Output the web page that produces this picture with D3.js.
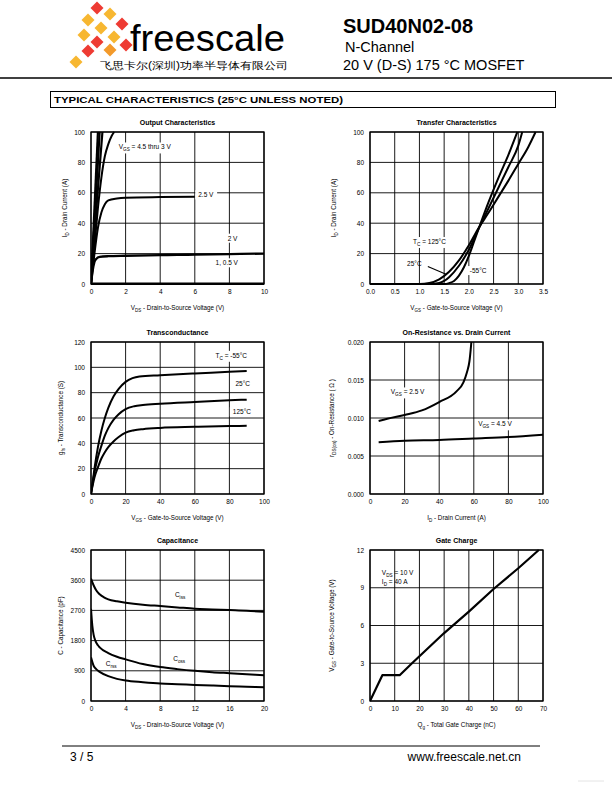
<!DOCTYPE html>
<html><head><meta charset="utf-8">
<script src="https://cdn.jsdelivr.net/npm/d3@7"></script>
<style>
body{margin:0;background:#fff}
svg{display:block}
text{font-family:"Liberation Sans",Arial,Helvetica,sans-serif}
</style>
</head><body>
<svg id="c" width="612" height="792"></svg>
<script>
// ---------------- DATA ----------------
// Output Characteristics (ID vs VDS)
const outXTicks = [0, 2, 4, 6, 8, 10];
const outYTicks = [0, 20, 40, 60, 80, 100];
const out4p5V = [[0,0],[0.4,100]];
const out4V   = [[0,0],[0.5,100]];
const out3p5V = [[0,0],[0.3,48],[0.66,100]];
const out3V   = [[0,0],[0.2,25],[0.4,50],[0.6,70],[0.8,84],[1.0,92],[1.2,97.5],[1.34,100]];
const out2p5V = [[0,0],[0.2,20],[0.4,37],[0.6,47],[0.8,52.5],[1.0,55],[1.5,56.3],[2,56.8],[4,57.2],[6,57.4]];
const out2V   = [[0,0],[0.1,9],[0.2,14.5],[0.3,16.5],[0.5,17.8],[1,18.3],[2,18.6],[4,19],[6,19.3],[8,19.7],[10,20]];
const out1V   = [[0,0],[10,0]];

// Transfer Characteristics (ID vs VGS)
const trXTicks = [0, 0.5, 1, 1.5, 2, 2.5, 3, 3.5];
const trYTicks = [0, 20, 40, 60, 80, 100];
const tr125 = [[0,0],[1.0,0],[1.2,0.6],[1.4,3],[1.6,8],[1.8,15.5],[2.0,25.5],[2.2,37],[2.4,47],[2.6,57.5],[2.8,68],[3.0,79],[3.2,90],[3.35,100]];
const tr25  = [[0,0],[1.2,0],[1.4,0.6],[1.5,2],[1.6,4.5],[1.8,12],[2.0,22.5],[2.2,36.5],[2.4,50],[2.6,63.5],[2.8,77],[3.0,91],[3.08,100]];
const trM55 = [[0,0],[1.5,0],[1.6,0.6],[1.7,2],[1.8,5.5],[1.9,11],[2.0,18.5],[2.1,27.5],[2.2,36.5],[2.4,54],[2.6,70],[2.8,85],[2.98,100]];

// Transconductance (gfs vs ID)
const gfsXTicks = [0, 20, 40, 60, 80, 100];
const gfsYTicks = [0, 20, 40, 60, 80, 100, 120];
const gfsM55 = [[0,0],[1,10],[2,20],[4,37],[6,50],[8,60],[10,68],[13,77],[16,83],[20,88.5],[24,91.5],[28,92.8],[40,93.8],[60,95.2],[80,96.5],[90,97.2]];
const gfs25  = [[0,0],[1,9],[2,17],[4,29],[6,38],[8,46],[10,52],[13,58.5],[16,63],[20,67],[25,69.3],[30,70.3],[40,71.3],[60,72.7],[80,74],[90,74.5]];
const gfs125 = [[0,0],[1,7],[2,13],[4,21],[6,28],[8,33],[10,37],[13,41.5],[16,45],[20,48.5],[25,50.3],[30,51.2],[40,52.2],[60,53],[80,53.6],[90,53.8]];

// On-Resistance vs Drain Current
const rdsXTicks = [0, 20, 40, 60, 80, 100];
const rdsYTicks = [0, 0.005, 0.010, 0.015, 0.020];
const rds2p5V = [[5,0.0096],[10,0.0099],[20,0.0104],[30,0.011],[40,0.0121],[50,0.0135],[54,0.0147],[56,0.016],[57.5,0.0175],[58.2,0.019],[58.6,0.020]];
const rds4p5V = [[5,0.0068],[20,0.0070],[40,0.0071],[60,0.0073],[80,0.0075],[100,0.0078]];

// Capacitance
const capXTicks = [0, 4, 8, 12, 16, 20];
const capYTicks = [0, 900, 1800, 2700, 3600, 4500];
const ciss = [[0,3650],[0.3,3450],[0.6,3300],[1,3180],[1.5,3090],[2,3030],[3,2970],[4,2930],[6,2870],[8,2830],[10,2790],[12,2750],[14,2730],[16,2710],[18,2690],[20,2660]];
const coss = [[0,2750],[0.15,2250],[0.3,1980],[0.5,1800],[0.8,1660],[1,1600],[2,1430],[3,1320],[4,1240],[6,1100],[8,1010],[10,950],[12,900],[14,860],[16,830],[18,800],[20,770]];
const crss = [[0,1300],[0.3,1050],[0.6,950],[1,870],[2,740],[3,660],[4,610],[6,560],[8,520],[10,500],[12,480],[14,460],[16,440],[18,425],[20,410]];

// Gate Charge
const qgXTicks = [0, 10, 20, 30, 40, 50, 60, 70];
const qgYTicks = [0, 3, 6, 9, 12];
const qgVgs = [[0,0],[5,2.05],[12,2.05],[17,3],[30,5.4],[40,7.1],[50,8.9],[60,10.55],[68.3,12]];

// ---------------- DRAWING ----------------
const svg = d3.select('#c');
const FONT = '"Liberation Sans", Arial, Helvetica, sans-serif';

function rich(sel, parts, size) {
  let inSub = false;
  parts.forEach(p => {
    const t = typeof p === 'string' ? p : p[0];
    const sub = typeof p !== 'string';
    const ts = sel.append('tspan').text(t);
    if (sub && !inSub) { ts.attr('font-size', size * 0.72).attr('dy', size * 0.3); inSub = true; }
    else if (sub) { ts.attr('font-size', size * 0.72); }
    else if (!sub && inSub) { ts.attr('dy', -size * 0.3); inSub = false; }
  });
  return sel;
}

let clipId = 0;
function panel(p) {
  const x = d3.scaleLinear().domain(p.xDomain).range([p.left, p.right]);
  const y = d3.scaleLinear().domain(p.yDomain).range([p.bottom, p.top]);
  const g = svg.append('g');
  g.append('g').selectAll('line').data(p.xTicks).join('line')
    .attr('x1', d => x(d)).attr('x2', d => x(d))
    .attr('y1', p.top).attr('y2', p.bottom)
    .attr('stroke', '#000').attr('stroke-width', 0.9);
  g.append('g').selectAll('line').data(p.yTicks).join('line')
    .attr('y1', d => y(d)).attr('y2', d => y(d))
    .attr('x1', p.left).attr('x2', p.right)
    .attr('stroke', '#000').attr('stroke-width', 0.9);
  g.append('rect').attr('x', p.left).attr('y', p.top)
    .attr('width', p.right - p.left).attr('height', p.bottom - p.top)
    .attr('fill', 'none').attr('stroke', '#000').attr('stroke-width', 1.3);
  const ax = g.append('g').attr('transform', `translate(0,${p.bottom})`)
    .call(d3.axisBottom(x).tickValues(p.xTicks).tickFormat(p.xFmt).tickSize(0).tickPadding(5));
  ax.select('.domain').remove();
  ax.attr('font-family', FONT).attr('font-size', 6.5);
  const ay = g.append('g').attr('transform', `translate(${p.left},0)`)
    .call(d3.axisLeft(y).tickValues(p.yTicks).tickFormat(p.yFmt).tickSize(0).tickPadding(p.yPad || 6));
  ay.select('.domain').remove();
  ay.attr('font-family', FONT).attr('font-size', 6.5);
  g.append('text').attr('x', (p.left + p.right) / 2).attr('y', p.top - 7)
    .attr('text-anchor', 'middle').attr('font-size', 7).attr('font-weight', 'bold').text(p.title);
  rich(g.append('text').attr('x', (p.left + p.right) / 2).attr('y', p.bottom + 26)
    .attr('text-anchor', 'middle').attr('font-size', 6.3), p.xTitle, 6.3);
  rich(g.append('text').attr('transform', `translate(${p.left - p.yTitleOff},${(p.top + p.bottom) / 2}) rotate(-90)`)
    .attr('text-anchor', 'middle').attr('font-size', 6.3), p.yTitle, 6.3);
  const id = 'clip' + (clipId++);
  svg.append('clipPath').attr('id', id).append('rect')
    .attr('x', p.left).attr('y', p.top - 1).attr('width', p.right - p.left).attr('height', p.bottom - p.top + 2);
  const curves = g.append('g').attr('clip-path', `url(#${id})`);
  return {g, x, y, curves};
}

function curve(P, data, opts = {}) {
  const line = d3.line().x(d => P.x(d[0])).y(d => P.y(d[1]))
    .curve(opts.linear ? d3.curveLinear : d3.curveMonotoneX);
  P.curves.append('path').datum(data).attr('d', line)
    .attr('fill', 'none').attr('stroke', opts.color || '#000')
    .attr('stroke-width', opts.width || 2).attr('stroke-linejoin', 'round');
}

function label(P, xv, yv, parts, opts = {}) {
  const size = opts.size || 6.5;
  const t = P.g.append('text').attr('x', P.x(xv)).attr('y', P.y(yv))
    .attr('font-size', size).attr('text-anchor', opts.anchor || 'start');
  rich(t, parts, size);
  if (opts.bg !== false) {
    const b = t.node().getBBox();
    P.g.insert('rect', () => t.node())
      .attr('x', b.x - 3).attr('y', b.y - 1).attr('width', b.width + 6).attr('height', b.height + 2)
      .attr('fill', '#fff');
  }
  return t;
}

const L = {left: 91, right: 264}, R = {left: 370, right: 543};
const row1 = {top: 132, bottom: 284}, row2 = {top: 342, bottom: 494}, row3 = {top: 550, bottom: 701};
const fmt0 = d3.format('d');

// Panel 1: Output Characteristics
const P1 = panel({...L, ...row1, xDomain: [0, 10], yDomain: [0, 100], xTicks: outXTicks, yTicks: outYTicks,
  xFmt: fmt0, yFmt: fmt0, title: 'Output Characteristics',
  xTitle: ['V', ['DS'], '  -  Drain-to-Source Voltage (V)'], yTitle: ['I', ['D'], '  -  Drain Current (A)'], yTitleOff: 24});
curve(P1, out4p5V, {linear: true, width: 2.2});
curve(P1, out4V, {linear: true, width: 2.2});
curve(P1, out3p5V, {width: 2.2});
curve(P1, out3V);
curve(P1, out2p5V);
curve(P1, out2V, {width: 2.3});
curve(P1, out1V, {linear: true, width: 3});
label(P1, 1.6, 88.5, ['V', ['GS'], ' = 4.5 thru 3 V']);
label(P1, 6.2, 57, ['2.5 V']);
label(P1, 7.9, 28.5, ['2 V']);
label(P1, 7.2, 12.3, ['1, 0.5 V']);

// Panel 2: Transfer Characteristics
const P2 = panel({...R, ...row1, xDomain: [0, 3.5], yDomain: [0, 100], xTicks: trXTicks, yTicks: trYTicks,
  xFmt: d3.format('.1f'), yFmt: fmt0, title: 'Transfer Characteristics',
  xTitle: ['V', ['GS'], '  -  Gate-to-Source Voltage (V)'], yTitle: ['I', ['D'], '  -  Drain Current (A)'], yTitleOff: 34});
curve(P2, tr125);
curve(P2, tr25);
curve(P2, trM55);
label(P2, 0.87, 26.3, ['T', ['C'], ' = 125°C']);
label(P2, 0.75, 12, ['25°C'], {bg: false});
P2.g.append('line').attr('x1', P2.x(1.17)).attr('y1', P2.y(11.5)).attr('x2', P2.x(1.55)).attr('y2', P2.y(6.3))
  .attr('stroke', '#000').attr('stroke-width', 1.1);
label(P2, 2.02, 7.2, ['-55°C']);

// Panel 3: Transconductance
const P3 = panel({...L, ...row2, xDomain: [0, 100], yDomain: [0, 120], xTicks: gfsXTicks, yTicks: gfsYTicks,
  xFmt: fmt0, yFmt: fmt0, title: 'Transconductance',
  xTitle: ['V', ['GS'], '  -  Gate-to-Source Voltage (V)'], yTitle: ['g', ['fs'], '  -  Transconductance (S)'], yTitleOff: 28});
curve(P3, gfsM55);
curve(P3, gfs25);
curve(P3, gfs125);
label(P3, 72, 107.5, ['T', ['C'], ' = -55°C']);
label(P3, 83.5, 85, ['25°C']);
label(P3, 82, 63, ['125°C']);

// Panel 4: On-Resistance vs Drain Current
const P4 = panel({...R, ...row2, xDomain: [0, 100], yDomain: [0, 0.02], xTicks: rdsXTicks, yTicks: rdsYTicks,
  xFmt: fmt0, yFmt: d3.format('.3f'), title: 'On-Resistance vs. Drain Current',
  xTitle: ['I', ['D'], '  -  Drain Current (A)'], yTitle: ['r', ['DS(on)'], '  -  On-Resistance ( Ω )'], yTitleOff: 36});
curve(P4, rds2p5V);
curve(P4, rds4p5V);
label(P4, 12, 0.0131, ['V', ['GS'], ' = 2.5 V']);
label(P4, 62.5, 0.0089, ['V', ['GS'], ' = 4.5 V']);

// Panel 5: Capacitance
const P5 = panel({...L, ...row3, xDomain: [0, 20], yDomain: [0, 4500], xTicks: capXTicks, yTicks: capYTicks,
  xFmt: fmt0, yFmt: fmt0, title: 'Capacitance',
  xTitle: ['V', ['DS'], '  -  Drain-to-Source Voltage (V)'], yTitle: ['C  -  Capacitance (pF)'], yTitleOff: 28});
curve(P5, ciss);
curve(P5, coss);
curve(P5, crss);
label(P5, 9.7, 3100, ['C', ['iss']], {bg: false});
label(P5, 9.5, 1190, ['C', ['oss']], {bg: false});
label(P5, 1.7, 1040, ['C', ['rss']], {bg: false});

// Panel 6: Gate Charge
const P6 = panel({...R, ...row3, xDomain: [0, 70], yDomain: [0, 12], xTicks: qgXTicks, yTicks: qgYTicks,
  xFmt: fmt0, yFmt: fmt0, title: 'Gate Charge',
  xTitle: ['Q', ['g'], '  -  Total Gate Charge (nC)'], yTitle: ['V', ['GS'], '  -  Gate-to-Source Voltage (V)'], yTitleOff: 36});
curve(P6, qgVgs, {linear: true, width: 2.2});
label(P6, 4.8, 10, ['V', ['DS'], ' = 10 V'], {bg: false});
label(P6, 4.8, 9.3, ['I', ['D'], ' = 40 A'], {bg: false});

// ---------------- HEADER ----------------
const diamonds = [
  [97,8,'#ee3b33'],[110,14,'#f7b731'],[88,20,'#f7b731'],[122,24,'#ee3b33'],
  [101,28,'#f7b731'],[84,35,'#f7b731'],[114,37,'#f7b731'],[97,42,'#ee3b33'],
  [126,45,'#ee3b33'],[110,50,'#f39a2b'],[88,51,'#ee3b33'],[76,62,'#f7b731']
];
const hdr = svg.append('g');
hdr.selectAll('rect.dm').data(diamonds).join('rect').attr('class', 'dm')
  .attr('x', -4.6).attr('y', -4.6).attr('width', 9.2).attr('height', 9.2)
  .attr('transform', d => `translate(${d[0]},${d[1]}) rotate(45)`)
  .attr('fill', d => d[2]);
hdr.append('text').attr('x', 130).attr('y', 51).attr('font-size', 37).attr('textLength', 155)
  .attr('lengthAdjust', 'spacingAndGlyphs').text('freescale');
hdr.append('text').attr('x', 100).attr('y', 68.5).attr('font-size', 10).attr('textLength', 188)
  .attr('lengthAdjust', 'spacingAndGlyphs').attr('font-family', '"Noto Sans CJK SC", sans-serif')
  .text('飞思卡尔(深圳)功率半导体有限公司');
hdr.append('text').attr('x', 343).attr('y', 33).attr('font-size', 20).attr('font-weight', 'bold').text('SUD40N02-08');
hdr.append('text').attr('x', 345).attr('y', 52).attr('font-size', 14.5).text('N-Channel');
hdr.append('text').attr('x', 343).attr('y', 70).attr('font-size', 14.5).text('20 V (D-S) 175 °C MOSFET');
hdr.append('line').attr('x1', 0).attr('x2', 612).attr('y1', 78).attr('y2', 78).attr('stroke', '#000').attr('stroke-width', 1.3);
hdr.append('rect').attr('x', 50.5).attr('y', 91.5).attr('width', 505).attr('height', 16)
  .attr('fill', '#fff').attr('stroke', '#000').attr('stroke-width', 1);
hdr.append('text').attr('x', 54).attr('y', 102.5).attr('font-size', 9).attr('font-weight', 'bold')
  .attr('textLength', 289).attr('lengthAdjust', 'spacingAndGlyphs')
  .text('TYPICAL CHARACTERISTICS (25°C UNLESS NOTED)');

// ---------------- FOOTER ----------------
svg.append('line').attr('x1', 62).attr('x2', 540).attr('y1', 746).attr('y2', 746).attr('stroke', '#000').attr('stroke-width', 1);
svg.append('text').attr('x', 70).attr('y', 761).attr('font-size', 12).text('3 / 5');
svg.append('text').attr('x', 521).attr('y', 761).attr('font-size', 12).attr('text-anchor', 'end').text('www.freescale.net.cn');
svg.append('line').attr('x1', 578).attr('x2', 604).attr('y1', 781).attr('y2', 781).attr('stroke', '#e4e4e4').attr('stroke-width', 1);
</script>
</body></html>
